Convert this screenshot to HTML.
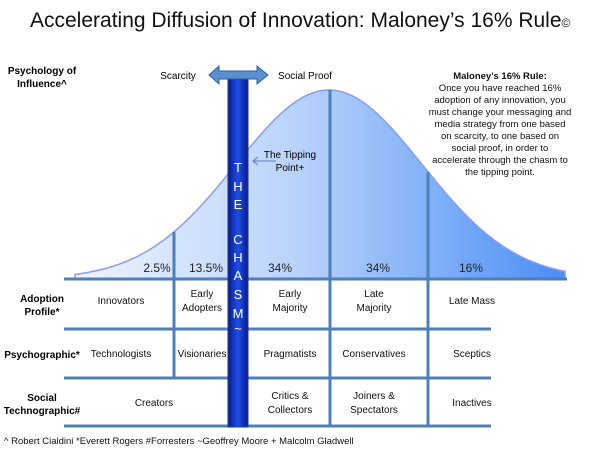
<!DOCTYPE html>
<html><head><meta charset="utf-8"><style>
body{margin:0;background:#fff;font-family:"Liberation Sans",sans-serif;}
svg text{font-family:"Liberation Sans",sans-serif;}
</style></head><body>
<svg width="600" height="451" viewBox="0 0 600 451">
<defs>
<linearGradient id="fill" x1="0" x2="1" y1="0" y2="0">
<stop offset="0" stop-color="#eef4ff"/><stop offset="0.45" stop-color="#b9d3fb"/><stop offset="1" stop-color="#4a8ef5"/>
</linearGradient>
<linearGradient id="bar" x1="0" x2="1"><stop offset="0" stop-color="#0a1a8a"/><stop offset="0.5" stop-color="#1d4fe8"/><stop offset="1" stop-color="#0a1a8a"/></linearGradient>
</defs>
<text x="30" y="27" font-size="21" fill="#111">Accelerating Diffusion of Innovation: Maloney’s 16% Rule<tspan font-size="12">©</tspan></text>
<g id="curve"></g>
<g font-size="12" fill="#222" text-anchor="middle" id="pcts"></g>
<g stroke="#4f7fb8" stroke-width="3" id="grid"></g>
<g font-size="10" fill="#111" text-anchor="middle" id="cells"></g>
<g font-size="10" font-weight="bold" fill="#000" text-anchor="middle">
<text x="42" y="74">Psychology of</text><text x="42" y="87">Influence^</text>
<text x="42" y="302">Adoption</text><text x="42" y="315">Profile*</text>
<text x="42" y="358">Psychographic*</text>
<text x="42" y="401">Social</text><text x="42" y="414">Technographic#</text>
</g>
<text x="178" y="79" font-size="10" text-anchor="middle">Scarcity</text>
<text x="305" y="79" font-size="10" text-anchor="middle">Social Proof</text>
<g font-size="9.5" text-anchor="middle" fill="#111">
<text x="500" y="79" font-weight="bold">Maloney’s 16% Rule:</text>
<text x="500" y="91">Once you have reached 16%</text>
<text x="500" y="103">adoption of any innovation, you</text>
<text x="500" y="115">must change your messaging and</text>
<text x="500" y="127">media strategy from one based</text>
<text x="500" y="139">on scarcity, to one based on</text>
<text x="500" y="151">social proof, in order to</text>
<text x="500" y="163">accelerate through the chasm to</text>
<text x="500" y="175">the tipping point.</text>
</g>
<g>
<text x="290" y="158" font-size="10" text-anchor="middle">The Tipping</text>
<text x="290" y="171" font-size="10" text-anchor="middle">Point+</text>
<line x1="276" y1="161" x2="253" y2="161" stroke="#5a7fc0"/>
<path d="M258 157 L253 161 L258 165" fill="none" stroke="#5a7fc0"/>
</g>
<rect x="228" y="72" width="20" height="355" fill="url(#bar)" stroke="#223a8a"/>
<path d="M209 75 L219 66 L219 71 L257 71 L257 66 L268 75 L257 84 L257 79 L219 79 L219 84 Z" fill="#5b8fd0" stroke="#2e5fa0"/>
<g fill="#fff" font-size="13" text-anchor="middle">
<text x="238" y="172">T</text><text x="238" y="191">H</text><text x="238" y="209">E</text>
<text x="238" y="244">C</text><text x="238" y="262">H</text><text x="238" y="280">A</text><text x="238" y="299">S</text><text x="238" y="318">M</text><text x="238" y="333">~</text>
</g>
<text x="4" y="444" font-size="9.5" fill="#111">^ Robert Cialdini *Everett Rogers  #Forresters ~Geoffrey Moore + Malcolm Gladwell</text>
</svg>
<script>
const segmentLabels=["2.5%","13.5%","34%","34%","16%"];
const segmentLabelX=[157,206,280,378,471];
const cellTexts=[["Innovators","Early|Adopters","Early|Majority","Late|Majority","Late Mass"],["Technologists","Visionaries","Pragmatists","Conservatives","Sceptics"],["Creators","","Critics &|Collectors","Joiners &|Spectators","Inactives"]];
const NS="http://www.w3.org/2000/svg";
function mk(t,a,p){const e=document.createElementNS(NS,t);for(const k in a)e.setAttribute(k,a[k]);p.appendChild(e);return e;}
const base=279,peak=90,mu=329,sd=93,x0=75,x1=565;
function cy(x){const z=(x-mu)/sd;return base-(base-peak)*Math.exp(-z*z/2);}
let d="M"+x0+" "+base;for(let x=x0;x<=x1;x+=2)d+=" L"+x+" "+cy(x).toFixed(1);d+=" L"+x1+" "+base+" Z";
const cg=document.getElementById('curve');
const c=mk('path',{d:d,fill:"url(#fill)",stroke:"#8a9cf0","stroke-width":1.5},cg);


const pg=document.getElementById('pcts');
segmentLabels.forEach((s,i)=>{const t=mk('text',{x:segmentLabelX[i],y:272},pg);t.textContent=s;

});
const gg=document.getElementById('grid');
[[64,279,567,279],[64,329,491,329],[64,378,491,378],[64,426,491,426]].forEach(l=>{const e=mk('line',{x1:l[0],y1:l[1],x2:l[2],y2:l[3]},gg);

});
[[174,cy(174),378],[330,peak,426],[428,cy(428),426]].forEach(l=>{const e=mk('line',{x1:l[0],y1:l[1],x2:l[0],y2:l[2]},gg);

});
const colX=[[121,202,290,374,472],[121,202,290,374,472],[154,0,290,374,472]];
const rowY=[304,357,406];
const cgp=document.getElementById('cells');
cellTexts.forEach((r,ri)=>r.forEach((s,ci)=>{if(!s)return;const parts=s.split('|');
parts.forEach((p,pi)=>{const y=rowY[ri]+(parts.length>1?(pi?7:-7):0);const t=mk('text',{x:colX[ri][ci],y:y},cgp);t.textContent=p;

});}));
</script>
</body></html>
